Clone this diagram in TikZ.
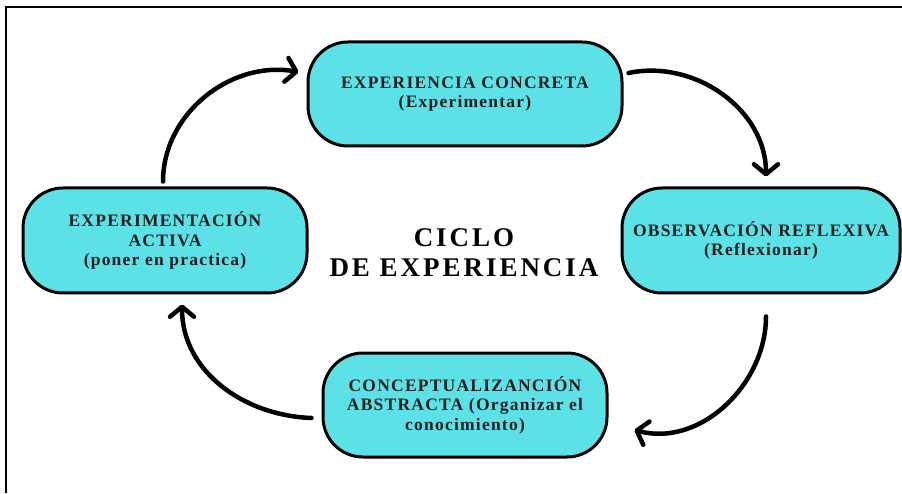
\documentclass[tikz,border=0pt]{standalone}
\usepackage{fontspec}
\setmainfont{Liberation Serif}
\usetikzlibrary{arrows.meta,calc}
\newfontfamily\boxfont[LetterSpace=7]{Liberation Serif}
\newfontfamily\titlefont[LetterSpace=11]{Liberation Serif}
\definecolor{boxcyan}{HTML}{5CE1E6}
\definecolor{txt}{HTML}{1E1E1E}
\begin{document}
\begin{tikzpicture}[x=1pt,y=1pt,
  stage/.style={draw=black, line width=3pt, fill=boxcyan, rounded corners=40pt,
    align=center, inner sep=0pt, text=txt,
    font=\boxfont\bfseries\fontsize{17.5}{19.5}\selectfont},
  cyc/.style={line width=4.5pt, line cap=round, line join=round,
    -{Straight Barb[length=10pt,width=24pt,round]}},
  frame/.style={line width=1.5pt}]
\useasboundingbox (0,0) rectangle (902,493);
\draw[frame] (6,0) -- (6,486) -- (902,486);

\node[stage, minimum width=314pt, minimum height=104pt] (ec) at (465,399)
  {EXPERIENCIA CONCRETA\\(Experimentar)};
\node[stage, minimum width=278pt, minimum height=105pt] (or) at (761,252.5)
  {OBSERVACIÓN REFLEXIVA\\(Reflexionar)};
\node[stage, minimum width=284pt, minimum height=104pt] (ca) at (465,88)
  {CONCEPTUALIZANCIÓN\\ABSTRACTA (Organizar el\\conocimiento)};
\node[stage, minimum width=284pt, minimum height=105pt] (ea) at (165,252.5)
  {EXPERIMENTACIÓN\\ACTIVA\\(poner en practica)};

\node[align=center, font=\titlefont\bfseries\fontsize{27}{30}\selectfont] (title) at (464,240)
  {CICLO\\DE EXPERIENCIA};

\coordinate (a1s) at ($(ea.north)+(-2,5)$);
\coordinate (a1e) at ($(ec.west)+(-8,22)$);
\coordinate (a2s) at ($(ec.east)+(5,21)$);
\coordinate (a2e) at ($(or.north)+(5,10)$);
\coordinate (a3s) at ($(or.south)+(5,-22)$);
\coordinate (a3e) at ($(ca.east)+(26,-25)$);
\coordinate (a4s) at ($(ca.west)+(-10,-13)$);
\coordinate (a4e) at ($(ea.south)+(17,-10)$);

\draw[cyc] (a1s) to[out=90,in=170] (a1e);
\draw[cyc] (a2s) to[out=12,in=90] (a2e);
\draw[cyc] (a3s) to[out=-90,in=-15] (a3e);
\draw[cyc] (a4s) to[out=178,in=-90] (a4e);
\end{tikzpicture}
\end{document}
